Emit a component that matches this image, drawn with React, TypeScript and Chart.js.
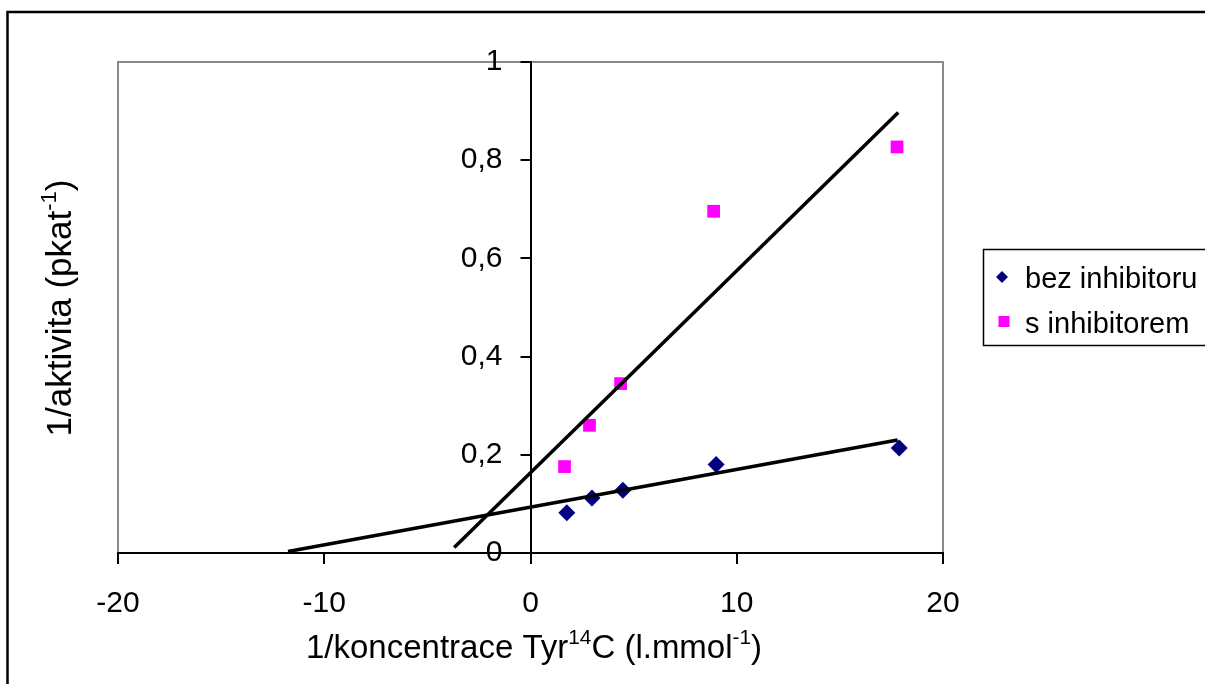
import React, { useEffect, useRef } from 'react';
import { Chart, registerables } from 'chart.js';

Chart.register(...registerables);

// ---- data ----
const bezX = [1.76, 2.98, 4.48, 9.0, 17.88];
const bezY = [0.082, 0.112, 0.128, 0.18, 0.214];
const sX = [1.65, 2.86, 4.37, 8.88, 17.77];
const sY = [0.176, 0.26, 0.345, 0.696, 0.827];
const bezTrendX = [-11.76, 17.8];
const bezTrendY = [0.003, 0.23];
const sTrendX = [-3.7, 17.83];
const sTrendY = [0.011, 0.897];
const xTicks = [-20, -10, 0, 10, 20];
const yTicks = [0, 0.2, 0.4, 0.6, 0.8, 1];
const seriesLabels = ['bez inhibitoru', 's inhibitorem'];
const seriesColors = ['#000080', '#FF00FF'];
const xTitleParts = [
  { t: '1/koncentrace Tyr' },
  { t: '14', sup: true },
  { t: 'C (l.mmol' },
  { t: '-1', sup: true },
  { t: ')' },
];
const yTitleParts = [
  { t: '1/aktivita (pkat' },
  { t: '-1', sup: true },
  { t: ')' },
];

const FONT = '"Liberation Sans", Arial, sans-serif';

type Part = { t: string; sup?: boolean };

function drawRich(ctx: CanvasRenderingContext2D, parts: Part[], size: number, cx: number, baseline: number) {
  const supSize = size * 0.63;
  const widths = parts.map((p) => {
    ctx.font = `${p.sup ? supSize : size}px ${FONT}`;
    return ctx.measureText(p.t).width;
  });
  const total = widths.reduce((a, b) => a + b, 0);
  let x = cx - total / 2;
  ctx.textBaseline = 'alphabetic';
  ctx.textAlign = 'left';
  parts.forEach((p, i) => {
    ctx.font = `${p.sup ? supSize : size}px ${FONT}`;
    ctx.fillText(p.t, x, p.sup ? baseline - size * 0.42 : baseline);
    x += widths[i];
  });
}

const framePlugin = {
  id: 'frame',
  afterLayout(chart: any) {
    // place the vertical axis where x = 0, as in the reference
    const xs = chart.scales.x;
    const ys = chart.scales.y;
    const px = xs.getPixelForValue(0);
    ys.right = px;
    ys.left = px - 120;
    ys.width = 120;
  },
  beforeDraw(chart: any) {
    const { ctx, chartArea: a } = chart;
    ctx.save();
    ctx.fillStyle = '#ffffff';
    ctx.fillRect(0, 0, chart.width, chart.height);
    ctx.strokeStyle = '#000000';
    ctx.lineWidth = 2.5;
    ctx.strokeRect(7.5, 12, chart.width + 30, chart.height + 30);
    ctx.strokeStyle = '#8a8a8a';
    ctx.lineWidth = 2;
    ctx.strokeRect(a.left, a.top, a.right - a.left, a.bottom - a.top);
    ctx.restore();
  },
};

const decorPlugin = {
  id: 'decor',
  afterDraw(chart: any) {
    const { ctx } = chart;
    ctx.save();
    ctx.fillStyle = '#000000';
    // axis titles
    drawRich(ctx, xTitleParts, 33, 534, 658);
    ctx.translate(71, 308);
    ctx.rotate(-Math.PI / 2);
    drawRich(ctx, yTitleParts, 35, 0, 0);
    ctx.setTransform(1, 0, 0, 1, 0, 0);

    // legend
    ctx.strokeStyle = '#000000';
    ctx.lineWidth = 1.5;
    ctx.strokeRect(983.5, 249.5, 260, 96);
    ctx.font = `29px ${FONT}`;
    ctx.textBaseline = 'alphabetic';
    ctx.textAlign = 'left';
    // entry 1: diamond
    ctx.fillStyle = seriesColors[0];
    ctx.beginPath();
    ctx.moveTo(1002, 271);
    ctx.lineTo(1008, 277);
    ctx.lineTo(1002, 283);
    ctx.lineTo(996, 277);
    ctx.closePath();
    ctx.fill();
    ctx.fillStyle = '#000000';
    ctx.fillText(seriesLabels[0], 1025, 288);
    // entry 2: square
    ctx.fillStyle = seriesColors[1];
    ctx.fillRect(998.5, 316, 11, 11);
    ctx.fillStyle = '#000000';
    ctx.fillText(seriesLabels[1], 1025, 333);
    ctx.restore();
  },
};

export default function App() {
  const canvasRef = useRef<HTMLCanvasElement | null>(null);

  useEffect(() => {
    const canvas = canvasRef.current;
    if (!canvas) return;
    const chart = new Chart(canvas, {
      type: 'scatter',
      data: {
        datasets: [
          {
            type: 'line',
            label: 'trend s',
            data: sTrendX.map((x, i) => ({ x, y: sTrendY[i] })),
            borderColor: '#000000',
            borderWidth: 3.5,
            pointRadius: 0,
            showLine: true,
            fill: false,
          } as any,
          {
            type: 'line',
            label: 'trend bez',
            data: bezTrendX.map((x, i) => ({ x, y: bezTrendY[i] })),
            borderColor: '#000000',
            borderWidth: 3.5,
            pointRadius: 0,
            showLine: true,
            fill: false,
          } as any,
          {
            label: seriesLabels[0],
            data: bezX.map((x, i) => ({ x, y: bezY[i] })),
            pointStyle: 'rectRot',
            pointRadius: 8.5,
            backgroundColor: seriesColors[0],
            borderColor: seriesColors[0],
            borderWidth: 0,
          },
          {
            label: seriesLabels[1],
            data: sX.map((x, i) => ({ x, y: sY[i] })),
            pointStyle: 'rect',
            pointRadius: 9,
            backgroundColor: seriesColors[1],
            borderColor: seriesColors[1],
            borderWidth: 0,
          },
        ],
      },
      options: {
        responsive: false,
        animation: false,
        layout: { padding: { left: 118, top: 62, right: 262, bottom: 131 } },
        plugins: {
          legend: { display: false },
          tooltip: { enabled: false },
          title: { display: false },
        },
        scales: {
          x: {
            type: 'linear',
            position: { y: 0 } as any,
            min: -20,
            max: 20,
            afterBuildTicks: (s: any) => {
              s.ticks = xTicks.map((v) => ({ value: v }));
            },
            grid: { drawOnChartArea: false, drawTicks: true, tickLength: 10, color: '#000000', lineWidth: 2 },
            border: { display: true, color: '#000000', width: 2 },
            ticks: {
              color: '#000000',
              font: { size: 30, family: FONT },
              padding: 23,
              maxRotation: 0,
              autoSkip: false,
              callback: (v: any) => String(v),
            },
          },
          y: {
            type: 'linear',
            position: 'left',
            min: 0,
            max: 1,
            afterFit: (s: any) => {
              s.width = 0;
            },
            afterBuildTicks: (s: any) => {
              s.ticks = yTicks.map((v) => ({ value: v }));
            },
            grid: { drawOnChartArea: false, drawTicks: true, tickLength: 10, color: '#000000', lineWidth: 2 },
            border: { display: true, color: '#000000', width: 2 },
            ticks: {
              color: '#000000',
              font: { size: 30, family: FONT },
              padding: 18,
              autoSkip: false,
              callback: (v: any) => String(v).replace('.', ','),
            },
          },
        },
      },
      plugins: [framePlugin, decorPlugin],
    });
    return () => chart.destroy();
  }, []);

  return (
    <div style={{ position: 'absolute', left: 0, top: 0, width: 1205, height: 684, background: '#fff' }}>
      <canvas ref={canvasRef} width={1205} height={684} style={{ display: 'block' }} />
    </div>
  );
}
